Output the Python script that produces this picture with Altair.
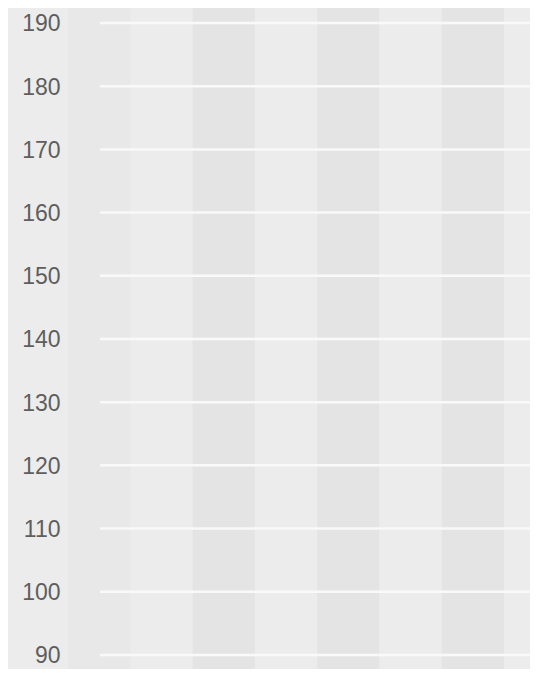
import altair as alt
import pandas as pd

# y-axis tick values (gridlines)
y_ticks = [90, 100, 110, 120, 130, 140, 150, 160, 170, 180, 190]

# column bands (index and shade)
band_index = [0, 1, 2, 3, 4, 5, 6, 7]
band_shade = ["mid", "light", "dark", "light", "dark", "light", "dark", "light"]

bands = pd.DataFrame({
    "start": band_index,
    "end": [i + 1 for i in band_index],
    "shade": band_shade,
})
grid = pd.DataFrame({"v": y_ticks})

W, H = 462, 661
x_scale = alt.Scale(domain=[0, 7.416], nice=False, zero=False)
y_scale = alt.Scale(domain=[87.78, 192.37], nice=False, zero=False)

band_layer = alt.Chart(bands).mark_rect().encode(
    x=alt.X("start:Q", scale=x_scale, axis=None),
    x2="end:Q",
    y=alt.value(0),
    y2=alt.value(H),
    color=alt.Color(
        "shade:N",
        scale=alt.Scale(domain=["mid", "light", "dark"],
                        range=["#e8e8e8", "#ececec", "#e4e4e4"]),
        legend=None,
    ),
)

grid_layer = alt.Chart(grid).mark_rule(color="#f9f9f9", strokeWidth=2.5).encode(
    y=alt.Y(
        "v:Q",
        scale=y_scale,
        axis=alt.Axis(
            values=y_ticks,
            title=None,
            grid=False,
            domain=False,
            ticks=False,
            labelPadding=8,
            labelFontSize=23,
            labelFont="Liberation Sans",
            labelColor="#5e5e5e",
            labelOffset=1,
        ),
    ),
    x=alt.value(32),
    x2=alt.value(W + 5),
)

chart = alt.layer(band_layer, grid_layer).properties(
    width=W,
    height=H,
    autosize="none",
    padding={"left": 60, "top": 0, "right": 0, "bottom": 0},
    background="#ececec",
).configure_view(stroke=None, fill="#ececec")

chart.save("out.html", embed_options={"renderer": "svg", "actions": False})
